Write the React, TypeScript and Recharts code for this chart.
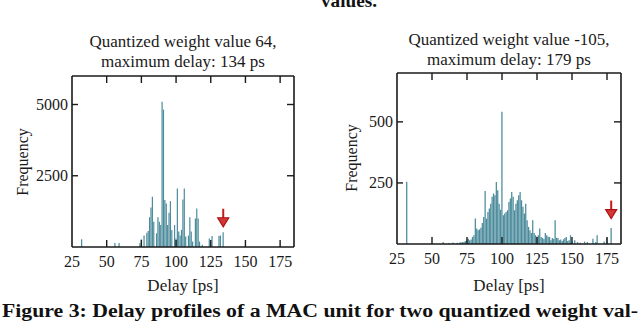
import React from 'react';
import { BarChart, Bar, XAxis, YAxis, ReferenceDot } from 'recharts';

// left panel: weight 64 (delay bin in ps -> count)
const leftDelay = [32, 56, 59, 74, 75, 77, 79, 80, 81, 82, 83, 84, 86, 87, 88, 89, 90, 91, 92, 93, 94, 95, 96, 97, 99, 100, 101, 102, 103, 104, 105, 106, 107, 109, 110, 111, 112, 114, 115, 116, 117, 119, 124, 126, 131, 132, 134];
const leftFreq = [270, 140, 140, 130, 270, 400, 500, 560, 1040, 1390, 1760, 890, 480, 1040, 890, 770, 5100, 4820, 1645, 1530, 770, 1200, 1610, 600, 770, 300, 2050, 540, 400, 600, 1670, 2050, 370, 400, 1040, 540, 190, 1000, 1355, 1000, 190, 80, 300, 390, 390, 400, 515];

// right panel: weight -105
const rightDelay = [32, 58, 62, 65, 68, 70, 71, 72, 73, 74, 75, 76, 77, 78, 79, 80, 81, 82, 83, 84, 85, 86, 87, 88, 89, 90, 91, 92, 93, 94, 95, 96, 97, 98, 99, 100, 101, 102, 103, 104, 105, 106, 107, 108, 109, 110, 111, 112, 113, 114, 115, 116, 117, 118, 119, 120, 121, 122, 123, 124, 125, 126, 127, 128, 129, 130, 131, 132, 133, 134, 135, 136, 137, 138, 139, 140, 141, 142, 143, 144, 145, 146, 147, 148, 149, 150, 152, 154, 156, 159, 161, 165, 167, 168, 173, 175, 178];
const rightFreq = [255, 8, 4, 6, 5, 7, 6, 8, 9, 12, 18, 22, 15, 18, 29, 36, 104, 63, 56, 60, 67, 86, 111, 217, 104, 131, 145, 165, 193, 207, 200, 254, 220, 165, 140, 541, 118, 125, 131, 138, 172, 186, 213, 193, 138, 165, 179, 200, 213, 179, 152, 125, 165, 97, 70, 56, 45, 97, 45, 36, 30, 36, 63, 29, 25, 20, 45, 36, 30, 29, 15, 25, 20, 97, 25, 25, 15, 18, 12, 19, 25, 29, 12, 15, 36, 8, 15, 8, 5, 10, 8, 22, 8, 36, 10, 25, 66];

const xTicks = [25, 50, 75, 100, 125, 150, 175];
const leftYTicks = [2500, 5000];
const rightYTicks = [250, 500];

const font = 'Liberation Serif, DejaVu Serif, serif';
const ink = '#1a1a1a';
const teal = '#4b8b9b';

const zip = (xs: number[], ys: number[]) => xs.map((d, i) => ({ delay: d, freq: ys[i] }));

const arrowShape = (p: any) => {
  const { cx, cy } = p;
  return (
    <g>
      <line x1={cx} x2={cx} y1={cy - 18} y2={cy - 6} stroke="#c41a1a" strokeWidth={2} />
      <path d={`M${cx - 5.5},${cy - 9} L${cx + 5.5},${cy - 9} L${cx},${cy} Z`} fill="#d03838" stroke="#b01010" strokeWidth={1.2} />
    </g>
  );
};

const bottomTick = (p: any) => (
  <g>
    {p.payload.value !== 25 && <line x1={p.x} x2={p.x} y1={p.y} y2={p.y - 7} stroke={ink} strokeWidth={1.4} />}
    <text x={p.x} y={p.y + 20} textAnchor="middle" fontFamily={font} fontSize={16} fill={ink}>{p.payload.value}</text>
  </g>
);
const topTick = (p: any) => <line x1={p.x} x2={p.x} y1={p.y} y2={p.y + 7} stroke={ink} strokeWidth={1.4} />;
const leftTick = (p: any) => (
  <g>
    <line x1={p.x} x2={p.x + 6} y1={p.y} y2={p.y} stroke={ink} strokeWidth={1.4} />
    <text x={p.x - 4} y={p.y + 5} textAnchor="end" fontFamily={font} fontSize={16} fill={ink}>{p.payload.value}</text>
  </g>
);
const rightTick = (p: any) => <line x1={p.x} x2={p.x - 7} y1={p.y} y2={p.y} stroke={ink} strokeWidth={1.4} />;

interface HistProps {
  data: { delay: number; freq: number }[];
  yMax: number;
  yTicks: number[];
  barSize: number;
  arrowX: number;
  arrowY: number;
  margin: { top: number; right: number; bottom: number; left: number };
}

const Histogram = ({ data, yMax, yTicks, barSize, arrowX, arrowY, margin }: HistProps) => (
  <BarChart width={320} height={300} data={data} margin={margin}>
    <XAxis dataKey="delay" type="number" domain={[25, 185]} ticks={xTicks} allowDataOverflow
      height={1} tickSize={0} tickMargin={0} tickLine={false} tick={bottomTick}
      axisLine={{ stroke: ink, strokeWidth: 1.6 }} interval={0} />
    <XAxis xAxisId="top" orientation="top" dataKey="delay" type="number" domain={[25, 185]} ticks={xTicks.slice(1)} allowDataOverflow
      height={1} tickSize={0} tickMargin={0} tickLine={false} tick={topTick}
      axisLine={{ stroke: ink, strokeWidth: 1.6 }} interval={0} />
    <YAxis type="number" domain={[0, yMax]} ticks={yTicks} allowDataOverflow width={1}
      tickSize={0} tickMargin={0} tickLine={false} tick={leftTick}
      axisLine={{ stroke: ink, strokeWidth: 1.6 }} interval={0} />
    <YAxis yAxisId="r" orientation="right" type="number" domain={[0, yMax]} ticks={yTicks} allowDataOverflow width={1}
      tickSize={0} tickMargin={0} tickLine={false} tick={rightTick}
      axisLine={{ stroke: ink, strokeWidth: 1.6 }} interval={0} />
    <Bar dataKey="freq" fill={teal} barSize={barSize} isAnimationActive={false} />
    <ReferenceDot x={arrowX} y={arrowY} r={0} shape={arrowShape} />
  </BarChart>
);

const txt = (extra: React.CSSProperties): React.CSSProperties => ({
  position: 'absolute', fontFamily: font, fontSize: 16, color: ink, whiteSpace: 'nowrap', lineHeight: '20px', ...extra,
});

export default function App() {
  return (
    <div style={{ position: 'absolute', left: 0, top: 0, width: 640, height: 325, background: '#fff', overflow: 'hidden' }}>
      <div style={{ position: 'absolute', left: 0, top: 0 }}>
        <Histogram data={zip(leftDelay, leftFreq)} yMax={6000} yTicks={leftYTicks} barSize={1.2}
          arrowX={134} arrowY={710} margin={{ top: 75, right: 25, bottom: 52, left: 71 }} />
      </div>
      <div style={{ position: 'absolute', left: 320, top: 0 }}>
        <Histogram data={zip(rightDelay, rightFreq)} yMax={700} yTicks={rightYTicks} barSize={1.4}
          arrowX={178} arrowY={104} margin={{ top: 72, right: 18, bottom: 55, left: 76 }} />
      </div>

      <div style={txt({ left: 73, width: 220, top: 32, textAlign: 'center', fontSize: 17 })}>
        Quantized weight value 64,<br />maximum delay: 134 ps
      </div>
      <div style={txt({ left: 399, width: 220, top: 30, textAlign: 'center', fontSize: 17 })}>
        Quantized weight value -105,<br />maximum delay: 179 ps
      </div>

      <div style={txt({ left: 23, top: 162, transform: 'translate(-50%, -50%) rotate(-90deg)' })}>Frequency</div>
      <div style={txt({ left: 352, top: 158, transform: 'translate(-50%, -50%) rotate(-90deg)' })}>Frequency</div>

      <div style={txt({ left: 133, width: 100, top: 276, textAlign: 'center', fontSize: 17 })}>Delay [ps]</div>
      <div style={txt({ left: 459, width: 100, top: 276, textAlign: 'center', fontSize: 17 })}>Delay [ps]</div>

      <svg width={640} height={325} style={{ position: 'absolute', left: 0, top: 0, pointerEvents: 'none' }}>
        <text x={321} y={7} fontFamily={font} fontWeight="bold" fontSize={18.5} fill="#111"
          textLength={56} lengthAdjust="spacingAndGlyphs">values.</text>
        <text x={2} y={317} fontFamily={font} fontWeight="bold" fontSize={18.5} fill="#111"
          textLength={636} lengthAdjust="spacingAndGlyphs">Figure 3: Delay profiles of a MAC unit for two quantized weight val-</text>
      </svg>
    </div>
  );
}
